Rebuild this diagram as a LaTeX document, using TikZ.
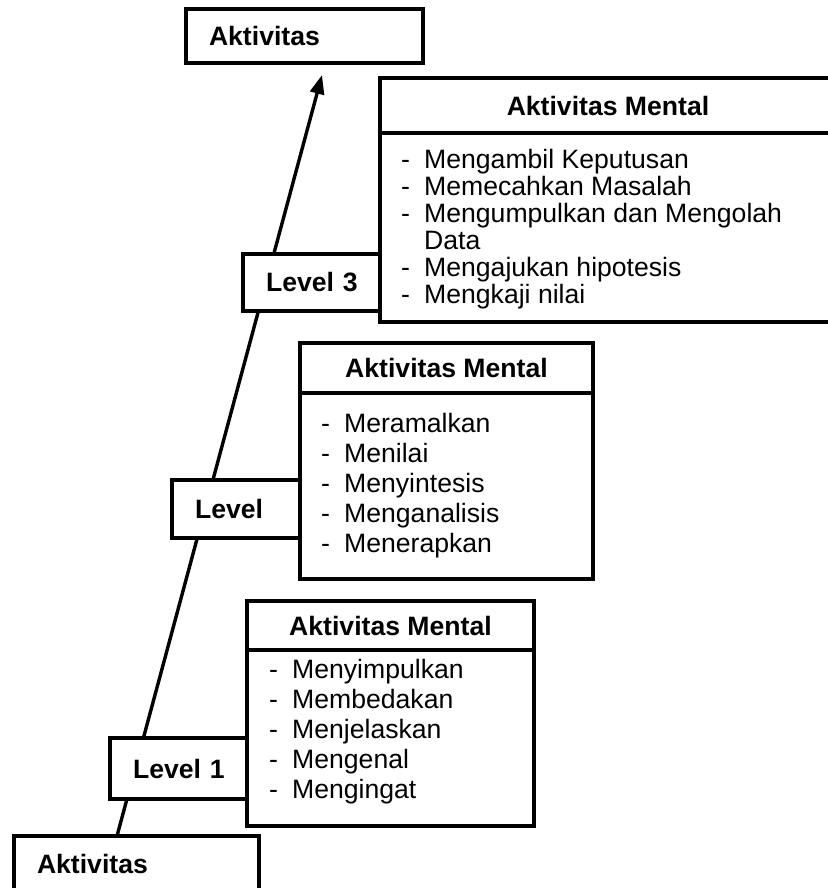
\documentclass[tikz,border=0pt]{standalone}
\usepackage{fontspec}
\setmainfont{Liberation Sans}
\usetikzlibrary{arrows.meta}
\newcommand\dsh{\makebox[23pt][l]{-}}
\newcommand\ind{\hspace*{23pt}}
\begin{document}
\begin{tikzpicture}[x=1pt,y=-1pt,
  every node/.style={font=\fontsize{26.6pt}{30pt}\selectfont},
  lbox/.style={draw, fill=white, line width=3.4pt, outer sep=0pt, font=\fontsize{26.6pt}{30pt}\selectfont\bfseries,
    inner xsep=23pt, inner ysep=0pt, align=left, anchor=north west},
  hdr/.style={draw, fill=white, line width=3.4pt, outer sep=0pt, font=\fontsize{26.6pt}{30pt}\selectfont\bfseries,
    inner sep=0pt, anchor=north west},
  bodybox/.style={draw, fill=white, line width=3.4pt, outer sep=0pt, inner sep=0pt, anchor=north west},
  itm/.style={inner sep=0pt, anchor=base west},
  arr/.style={line width=3.4pt, -{Triangle[length=19pt,width=14pt]}}]
\useasboundingbox (0,0) rectangle (827,888);

% end boxes
\node[lbox, text width=199pt, minimum height=56pt] (bot) at (14,836) {\mbox{Aktivitas}};
\node[lbox, text width=191pt, minimum height=54pt] (top) at (186,9) {\mbox{Aktivitas}};

\coordinate (lineStart) at ([xshift=103pt]bot.north west);
\coordinate (tip) at ([shift={(136pt,-12pt)}]top.south west);
\draw[arr] (lineStart) -- (tip);

% level boxes
\node[lbox, text width=91pt, minimum height=61pt] (lv1) at (110,738) {\mbox{Level 1}};
\node[lbox, text width=82pt, minimum height=58pt] (lv2) at (172,480) {\mbox{Level}};
\node[lbox, text width=91pt, minimum height=57pt] (lv3) at (243,254) {\mbox{Level 3}};

% mental box 1
\node[hdr, minimum width=287pt, minimum height=49pt] (h1) at (247,601) {Aktivitas Mental};
\node[bodybox, minimum width=287pt, minimum height=176pt] (b1) at (h1.south west) {};
\foreach \t [count=\i from 0] in {\dsh Menyimpulkan, \dsh Membedakan, \dsh Menjelaskan, \dsh Mengenal, \dsh Mengingat}
  \node[itm] (bA\i) at (269,{678+30*\i}) {\t};

% mental box 2
\node[hdr, minimum width=293pt, minimum height=50pt] (h2) at (300,343) {Aktivitas Mental};
\node[bodybox, minimum width=293pt, minimum height=186pt] (b2) at (h2.south west) {};
\foreach \t [count=\i from 0] in {\dsh Meramalkan, \dsh Menilai, \dsh Menyintesis, \dsh Menganalisis, \dsh Menerapkan}
  \node[itm] (bB\i) at (321,{432+30*\i}) {\t};

% mental box 3
\node[hdr, minimum width=456pt, minimum height=55pt] (h3) at (380,78) {Aktivitas Mental};
\node[bodybox, minimum width=456pt, minimum height=189pt] (b3) at (h3.south west) {};
\foreach \t [count=\i from 0] in {\dsh Mengambil Keputusan, \dsh Memecahkan Masalah, \dsh Mengumpulkan dan Mengolah, \ind Data, \dsh Mengajukan hipotesis, \dsh Mengkaji nilai}
  \node[itm] (bC\i) at (401,{168+27*\i}) {\t};
\end{tikzpicture}
\end{document}
